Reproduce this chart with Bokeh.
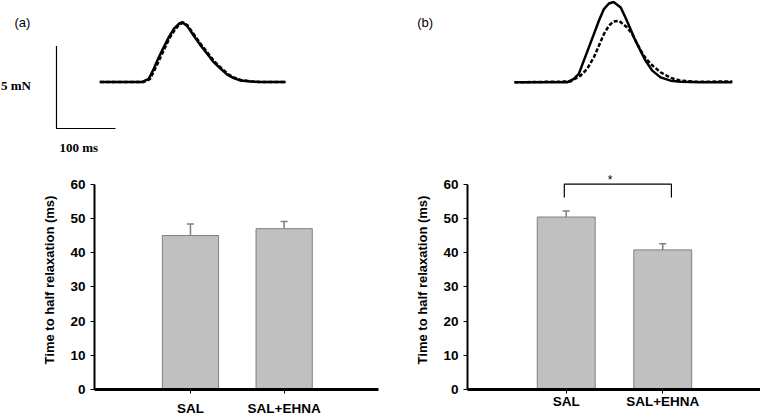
from bokeh.plotting import figure
from bokeh.layouts import row, column
from bokeh.models import Range1d, FixedTicker, Label, Whisker, ColumnDataSource, TeeHead
from bokeh.embed import file_html
from bokeh.resources import INLINE
from bokeh.core.properties import value

# ---------------- data ----------------
categories = ["SAL", "SAL+EHNA"]
a_mean = [45.0, 47.0]
a_err = [3.4, 2.1]
b_mean = [50.4, 40.8]
b_err = [1.8, 1.8]
y_ticks = [0, 10, 20, 30, 40, 50, 60]
y_label = "Time to half relaxation (ms)"

# twitch traces: time (ms), force (mN)
a_sal_t = [0, 72, 83, 91.5, 100, 108.5, 117, 125.5, 134, 140, 148, 159, 171, 182, 193, 205, 216, 227, 238.5, 255, 272, 315]
a_sal_f = [0, 0, 0.19, 0.80, 1.50, 2.11, 2.72, 3.22, 3.53, 3.62, 3.40, 2.82, 2.21, 1.71, 1.20, 0.80, 0.45, 0.23, 0.09, 0.03, 0, 0]
a_ehna_t = [0, 74, 85, 93, 102, 110, 118, 127, 135, 142, 149, 160, 172, 183, 194, 206, 217, 228, 240, 256, 273, 315]
a_ehna_f = [0, 0, 0.17, 0.75, 1.42, 2.05, 2.65, 3.15, 3.50, 3.60, 3.42, 2.86, 2.26, 1.76, 1.25, 0.84, 0.49, 0.26, 0.11, 0.04, 0, 0]

b_sal_t = [0, 89, 100.5, 109, 117.5, 126, 134.5, 143, 151.5, 160, 168, 180, 188, 196.5, 205, 213.5, 222, 233.5, 247.5, 264.5, 281.5, 315, 369]
b_sal_f = [0, 0, 0.21, 0.51, 1.32, 2.12, 2.93, 3.74, 4.45, 4.79, 4.88, 4.55, 3.94, 3.24, 2.53, 1.92, 1.32, 0.71, 0.30, 0.10, 0.04, 0, 0]
b_ehna_t = [0, 95, 112, 123, 134.5, 143, 151.5, 160, 168, 177, 191, 199.5, 208, 219, 230.5, 247.5, 264.5, 281.5, 304, 332, 369]
b_ehna_f = [0, 0.05, 0.41, 0.81, 1.52, 2.22, 2.93, 3.44, 3.70, 3.74, 3.33, 2.93, 2.33, 1.62, 1.12, 0.61, 0.27, 0.10, 0.04, 0.04, 0.05]

scale_ms = 100
scale_mn = 5
sig_text = "*"

# ---------------- styling ----------------
SANS = "Liberation Sans"
SERIF = "Liberation Serif"
BAR_FILL = "#c0c0c0"
BAR_LINE = "#7f7f7f"
TICK_FS = "13.5px"


def trace_fig(xr, yr):
    p = figure(width=380, height=160, x_range=xr, y_range=yr,
               x_axis_type=None, y_axis_type=None,
               toolbar_location=None, output_backend="svg",
               min_border_left=0, min_border_right=0,
               min_border_top=0, min_border_bottom=0)
    p.outline_line_color = None
    p.grid.visible = False
    return p


# top (a)
ta = trace_fig(Range1d(-168.3, 475.8), Range1d(-4.76, 4.94))
ta.line(a_sal_t, a_sal_f, line_color="black", line_width=2.5)
ta.line(a_ehna_t, a_ehna_f, line_color="black", line_width=2.5, line_dash="4 2")
sx0, sy0 = -73.4, -2.82
ta.line([sx0, sx0, sx0 + scale_ms], [sy0 + scale_mn, sy0, sy0], line_color="black", line_width=1.2)
ta.add_layout(Label(x=-167.6, y=-0.2, text=f"{scale_mn} mN", text_font=SERIF, text_font_style="bold",
                    text_font_size="13px", text_baseline="middle", text_align="left", text_color="black"))
ta.add_layout(Label(x=-68.3, y=-3.95, text=f"{scale_ms} ms", text_font=SERIF, text_font_style="bold",
                    text_font_size="13px", text_baseline="middle", text_align="left", text_color="black"))
ta.add_layout(Label(x=-144.6, y=3.61, text="(a)", text_font=SANS, text_font_size="13px",
                    text_baseline="middle", text_align="left", text_color="black"))

# top (b)
tb = trace_fig(Range1d(-227.1, 416.9), Range1d(-4.75, 4.97))
tb.line(b_sal_t, b_sal_f, line_color="black", line_width=2.5)
tb.line(b_ehna_t, b_ehna_f, line_color="black", line_width=2.5, line_dash="4 2")
tb.add_layout(Label(x=-164.9, y=3.62, text="(b)", text_font=SANS, text_font_size="13px",
                    text_baseline="middle", text_align="left", text_color="black"))


def bar_fig(mean, err, xr, yr, mbl, mbr, mbt, mbb, xstandoff):
    p = figure(width=380, height=259, x_range=xr, y_range=yr,
               toolbar_location=None, output_backend="svg",
               min_border_left=mbl, min_border_right=mbr,
               min_border_top=mbt, min_border_bottom=mbb)
    xs = [i + 1 for i in range(len(categories))]
    src = ColumnDataSource(dict(x=xs, top=mean, lower=mean,
                                upper=[m + e for m, e in zip(mean, err)]))
    p.vbar(x="x", top="top", bottom=0, width=0.6, source=src,
           fill_color=BAR_FILL, line_color=BAR_LINE, line_width=1)
    w = Whisker(source=src, base="x", upper="upper", lower="lower",
                line_color=BAR_LINE, line_width=1.5, lower_head=None,
                upper_head=TeeHead(size=7, line_color=BAR_LINE, line_width=1.5))
    p.add_layout(w)
    p.grid.visible = False
    p.outline_line_color = None

    xa = p.xaxis[0]
    xa.ticker = FixedTicker(ticks=xs)
    xa.major_label_overrides = {x: c for x, c in zip(xs, categories)}
    xa.axis_line_width = 3
    xa.axis_line_color = "black"
    xa.major_tick_in = 0
    xa.major_tick_out = 4
    xa.minor_tick_out = 0
    xa.minor_tick_in = 0
    xa.major_tick_line_color = "black"
    xa.major_label_text_font = SANS
    xa.major_label_text_font_style = "bold"
    xa.major_label_text_font_size = TICK_FS
    xa.major_label_text_color = "black"
    xa.major_label_standoff = xstandoff

    ya = p.yaxis[0]
    ya.ticker = FixedTicker(ticks=y_ticks)
    ya.bounds = (0, 60)
    ya.axis_line_width = 2
    ya.axis_line_color = "black"
    ya.major_tick_in = 0
    ya.major_tick_out = 4
    ya.minor_tick_out = 0
    ya.minor_tick_in = 0
    ya.major_tick_line_color = "black"
    ya.major_label_text_font = SANS
    ya.major_label_text_font_style = "bold"
    ya.major_label_text_font_size = TICK_FS
    ya.major_label_text_color = "black"
    ya.major_label_standoff = 5
    ya.axis_label = y_label
    ya.axis_label_text_font = SANS
    ya.axis_label_text_font_style = "bold"
    ya.axis_label_text_font_size = "13px"
    ya.axis_label_text_color = "black"
    ya.axis_label_standoff = 10
    return p, xs


ba, _ = bar_fig(a_mean, a_err, Range1d(-0.024, 3.007), Range1d(0, 64), 94, 2, 10, 30, 7)
bb, xs_b = bar_fig(b_mean, b_err, Range1d(-0.023, 3.013), Range1d(0, 64), 87, 0, 10, 30, 0)

# significance bracket in (b)
x1, x2 = xs_b[0] - 0.02, xs_b[1] + 0.09
bb.line([x1, x1, x2, x2], [56.1, 60, 60, 56.1], line_color="black", line_width=1.2)
bb.text(x=[1.455], y=[61.3], text=[sig_text], text_font=value(SANS), text_font_size="12px",
        text_align="center", text_baseline="middle", text_color="black")

layout = column(row(ta, tb), row(ba, bb))

open("out.html", "w").write(file_html(layout, INLINE))
